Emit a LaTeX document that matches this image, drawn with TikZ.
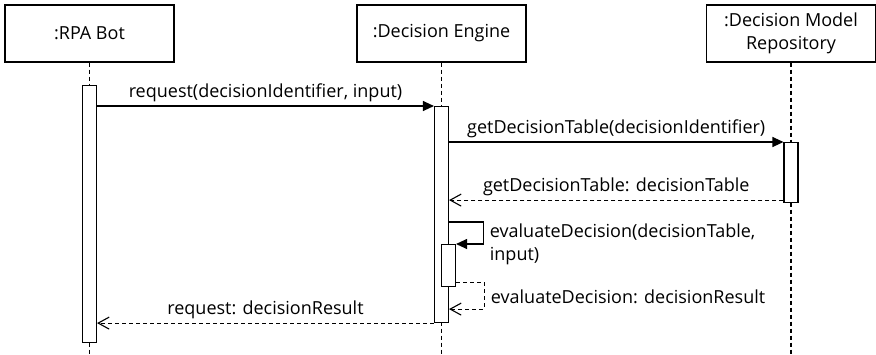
\documentclass[tikz,border=0pt]{standalone}
\usepackage{fontspec}
\setmainfont{Open Sans}
\usetikzlibrary{arrows.meta}
\begin{document}
\begin{tikzpicture}[x=1pt, y=-1pt, line width=1.1pt,
        head/.style={draw, minimum width=169pt, minimum height=57pt, align=center, font=\fontsize{18}{23}\selectfont},
        bar/.style={draw, fill=white, minimum width=14pt, inner sep=0pt, anchor=north},
        lifeline/.style={dash pattern=on 4pt off 3pt},
        call/.style={-{Triangle[length=11pt, width=10pt]}},
        reply/.style={dash pattern=on 4pt off 3pt, -{Straight Barb[length=11pt, width=12pt]}},
        msg/.style={font=\fontsize{18}{23}\selectfont}]
        \useasboundingbox (0,0) rectangle (876,354);

        % Lifeline heads
        \node[head] (bot) at (89.5,33.5) {:RPA Bot};
        \node[head] (engine) at (441.5,33.5) {:Decision Engine};
        \node[head] (repo) at (791,33.5) {:Decision Model\\Repository};

        % Dashed lifelines
        \foreach \who in {bot, engine, repo} {
            \draw[lifeline] (\who.south) -- ++(0,292);
        }

        % Activation bars
        \node[bar, minimum height=257pt] (botbar) at (89.5,85) {};
        \node[bar, minimum height=216pt] (enginebar) at (441.5,106) {};
        \node[bar, minimum height=60pt] (repobar) at (791,142) {};
        \node[bar, minimum height=42pt] (selfbar) at (448.5,244) {};

        % Messages
        \draw[call] (botbar.east |- enginebar.north west) -- (enginebar.north west)
            node[midway, above, msg] {request(decisionIdentifier, input)};
        \draw[call] (enginebar.east |- repobar.north west) -- (repobar.north west)
            node[midway, above, msg] {getDecisionTable(decisionIdentifier)};
        \draw[reply] ([yshift=3pt]repobar.south west) -- ([yshift=3pt]enginebar.east |- repobar.south west)
            node[midway, above, msg] {getDecisionTable: decisionTable};

        % Self call
        \draw[call] ([yshift=22pt]enginebar.east |- selfbar.north) -- ++(34,0) |- (selfbar.north east);
        \node[msg, anchor=west, align=left] (evalcall) at (486,244) {evaluateDecision(decisionTable,\\input)};
        \draw[reply] ([yshift=5pt]selfbar.south east) -- ++(28,0) |- ([yshift=-22pt]enginebar.east |- selfbar.south);
        \node[msg, anchor=west] (evalreply) at (487,297) {evaluateDecision: decisionResult};

        \draw[reply] (enginebar.south west) -- (botbar.east |- enginebar.south west)
            node[midway, above, msg] {request: decisionResult};
    \end{tikzpicture}
\end{document}
